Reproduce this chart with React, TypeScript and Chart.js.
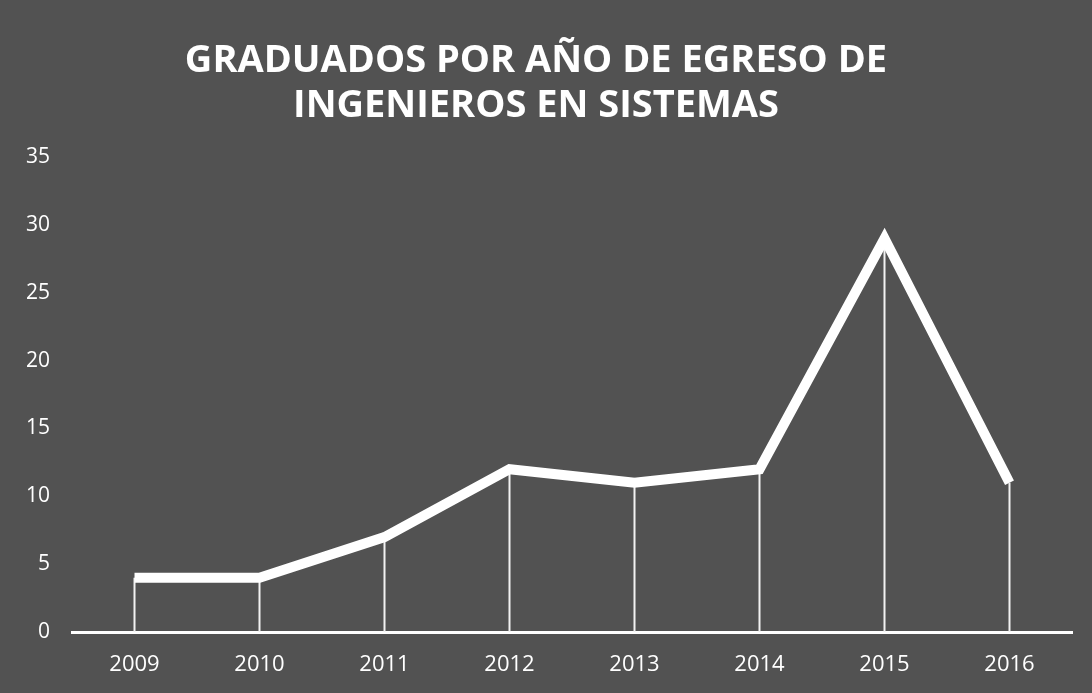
import React, { useEffect, useRef } from "react";
import { Chart, registerables } from "chart.js";

Chart.register(...registerables);

const years = ["2009", "2010", "2011", "2012", "2013", "2014", "2015", "2016"];
const graduados = [4, 4, 7, 12, 11, 12, 29, 11];
const yTicks = [0, 5, 10, 15, 20, 25, 30, 35];
const titleLines = ["GRADUADOS POR AÑO DE EGRESO DE", "INGENIEROS EN SISTEMAS"];

const dropLines = {
  id: "dropLines",
  beforeDatasetsDraw(chart: any) {
    const meta = chart.getDatasetMeta(0);
    const yScale = chart.scales.y;
    const base = yScale.getPixelForValue(0);
    const ctx = chart.ctx;
    ctx.save();
    ctx.strokeStyle = "#f2f2f2";
    ctx.lineWidth = 2;
    meta.data.forEach((pt: any) => {
      ctx.beginPath();
      ctx.moveTo(pt.x, pt.y);
      ctx.lineTo(pt.x, base);
      ctx.stroke();
    });
    ctx.restore();
  },
};

export default function App() {
  const ref = useRef<HTMLCanvasElement>(null);
  useEffect(() => {
    document.body.style.margin = "0";
    const chart = new Chart(ref.current!, {
      type: "line",
      data: {
        labels: years,
        datasets: [
          {
            label: "Graduados",
            data: graduados,
            borderColor: "#ffffff",
            borderWidth: 10,
            pointRadius: 0,
            tension: 0,
            borderJoinStyle: "miter",
          },
        ],
      },
      options: {
        animation: false,
        responsive: false,
        layout: { padding: { left: 0, right: 20, bottom: 0, top: 0 } },
        plugins: {
          legend: { display: false },
          tooltip: { enabled: false },
          title: {
            display: true,
            text: titleLines,
            color: "#ffffff",
            font: { family: "'Open Sans', sans-serif", size: 38, weight: "bold", lineHeight: 1.2 },
            padding: { top: 38, bottom: 28 },
          },
        },
        scales: {
          x: {
            offset: true,
            grid: { display: false },
            border: { display: true, color: "#ffffff", width: 3 },
            afterFit(axis: any) {
              axis.height = 61;
            },
            ticks: {
              color: "#ffffff",
              font: { family: "'Open Sans', sans-serif", size: 22 },
              padding: 12,
            },
          },
          y: {
            min: 0,
            max: 35,
            afterBuildTicks(axis: any) {
              axis.ticks = yTicks.map((v) => ({ value: v }));
            },
            afterFit(axis: any) {
              axis.width = 72;
            },
            grid: { display: false },
            border: { display: false },
            ticks: {
              color: "#ffffff",
              font: { family: "'Open Sans', sans-serif", size: 21 },
              crossAlign: "near",
              padding: 14,
            },
          },
        },
      },
      plugins: [dropLines],
    });
    return () => chart.destroy();
  }, []);
  return (
    <div style={{ width: 1092, height: 693, background: "#525252" }}>
      <canvas ref={ref} width={1092} height={693} style={{ display: "block" }} />
    </div>
  );
}
